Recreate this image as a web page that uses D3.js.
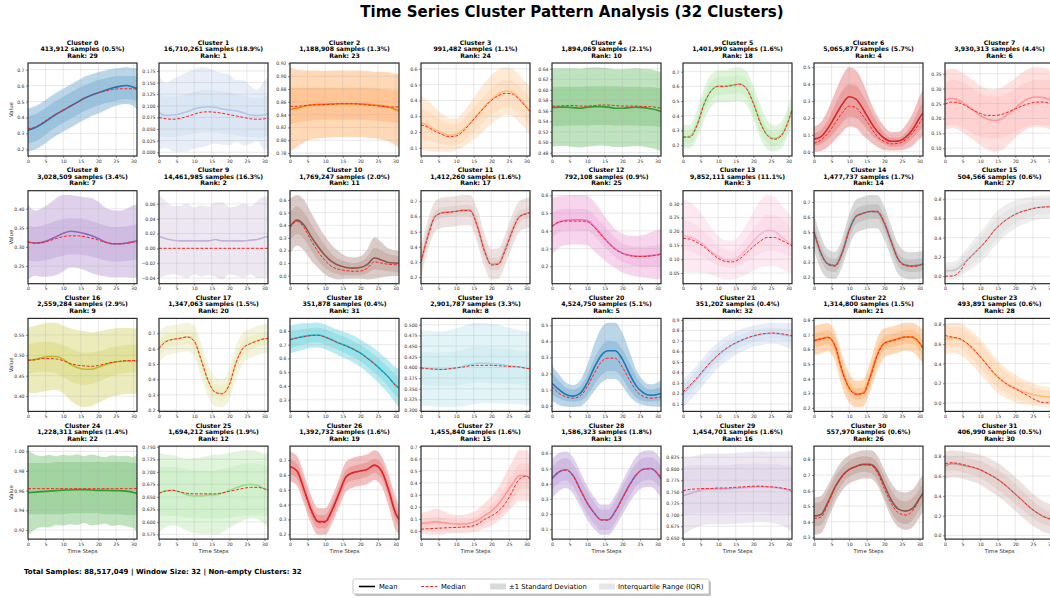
<!DOCTYPE html>
<html>
<head>
<meta charset="utf-8">
<script src="https://cdn.jsdelivr.net/npm/d3@7"></script>
<style>
  body { margin: 0; background: #fff; }
  svg { display: block; font-family: "DejaVu Sans", "Liberation Sans", sans-serif; }
</style>
</head>
<body>
<svg id="chart" width="1050" height="598"></svg>
<script>
// ---- data -------------------------------------------------------------
const timeSteps = [0, 2, 4, 6, 8, 10, 12, 14, 16, 18, 20, 22, 24, 26, 28, 30, 31];
const xTickValues = [0, 5, 10, 15, 20, 25, 30];
const totalSamples = 88517049;
const windowSize = 32;

const sampleCounts = [413912, 16710261, 1188908, 991482, 1894069, 1401990, 5065877, 3930313,
  3028509, 14461985, 1769247, 1412260, 792108, 9852111, 1477737, 504566,
  2559284, 1347063, 351878, 2901787, 4524750, 351202, 1314800, 493891,
  1228311, 1694212, 1392732, 1455840, 1586323, 1454701, 557970, 406990];
const ranks = [29, 1, 23, 24, 10, 18, 4, 6, 7, 2, 11, 17, 25, 3, 14, 27,
  9, 20, 31, 8, 5, 32, 21, 28, 22, 12, 19, 15, 13, 16, 26, 30];
const yTickSteps = [0.1, 0.025, 0.02, 0.1, 0.02, 0.1, 0.1, 0.05,
  0.05, 0.02, 0.1, 0.1, 0.1, 0.05, 0.1, 0.2,
  0.05, 0.1, 0.1, 0.025, 0.1, 0.1, 0.1, 0.2,
  0.02, 0.025, 0.1, 0.1, 0.1, 0.025, 0.1, 0.2];
const tab20 = ["#1f77b4", "#aec7e8", "#ff7f0e", "#ffbb78", "#2ca02c", "#98df8a", "#d62728", "#ff9896",
  "#9467bd", "#c5b0d5", "#8c564b", "#c49c94", "#e377c2", "#f7b6d2", "#7f7f7f", "#c7c7c7",
  "#bcbd22", "#dbdb8d", "#17becf", "#9edae5"];

const meanSeries = [
  [0.32,0.335,0.36,0.39,0.42,0.445,0.47,0.495,0.52,0.54,0.555,0.57,0.585,0.595,0.6,0.59,0.58],
  [0.085,0.079,0.08,0.083,0.087,0.093,0.097,0.098,0.097,0.093,0.091,0.089,0.085,0.08,0.079,0.08,0.084],
  [0.848,0.85,0.853,0.855,0.856,0.856,0.857,0.857,0.857,0.857,0.857,0.856,0.855,0.854,0.852,0.848,0.846],
  [0.26,0.24,0.215,0.195,0.18,0.185,0.215,0.26,0.31,0.36,0.405,0.44,0.46,0.45,0.41,0.36,0.33],
  [0.566,0.567,0.567,0.566,0.565,0.567,0.568,0.568,0.567,0.565,0.565,0.566,0.567,0.566,0.564,0.561,0.558],
  [0.255,0.26,0.34,0.48,0.57,0.6,0.6,0.61,0.615,0.59,0.49,0.36,0.27,0.245,0.27,0.37,0.44],
  [0.075,0.09,0.14,0.21,0.28,0.325,0.31,0.25,0.18,0.12,0.08,0.062,0.063,0.085,0.13,0.2,0.23],
  [0.262,0.268,0.26,0.245,0.228,0.21,0.198,0.193,0.198,0.215,0.235,0.255,0.268,0.272,0.27,0.262,0.258],
  [0.313,0.31,0.312,0.318,0.327,0.336,0.341,0.339,0.335,0.33,0.322,0.313,0.308,0.308,0.31,0.314,0.316],
  [0.016,0.013,0.011,0.01,0.01,0.01,0.01,0.01,0.012,0.01,0.01,0.01,0.01,0.011,0.012,0.015,0.016],
  [0.39,0.44,0.4,0.31,0.23,0.16,0.11,0.08,0.065,0.06,0.065,0.09,0.14,0.125,0.105,0.1,0.098],
  [0.3,0.48,0.6,0.625,0.63,0.635,0.642,0.64,0.54,0.38,0.285,0.29,0.385,0.51,0.6,0.62,0.626],
  [0.425,0.45,0.46,0.463,0.463,0.458,0.425,0.38,0.335,0.298,0.275,0.262,0.257,0.256,0.26,0.265,0.27],
  [0.185,0.18,0.168,0.15,0.128,0.11,0.098,0.097,0.11,0.135,0.165,0.19,0.203,0.2,0.18,0.16,0.15],
  [0.5,0.36,0.29,0.28,0.364,0.514,0.607,0.625,0.637,0.635,0.56,0.435,0.32,0.283,0.277,0.282,0.29],
  [0.056,0.058,0.09,0.16,0.23,0.3,0.38,0.475,0.545,0.6,0.643,0.672,0.693,0.71,0.718,0.722,0.724],
  [0.488,0.49,0.494,0.497,0.497,0.49,0.478,0.47,0.466,0.466,0.471,0.477,0.482,0.485,0.486,0.486,0.485],
  [0.607,0.65,0.66,0.667,0.676,0.65,0.527,0.392,0.318,0.309,0.37,0.517,0.607,0.634,0.652,0.665,0.667],
  [0.738,0.75,0.76,0.768,0.77,0.756,0.734,0.71,0.692,0.668,0.64,0.602,0.562,0.515,0.465,0.406,0.386],
  [0.399,0.398,0.396,0.396,0.397,0.399,0.403,0.407,0.41,0.41,0.409,0.408,0.405,0.403,0.401,0.398,0.397],
  [0.14,0.1,0.07,0.06,0.077,0.142,0.237,0.313,0.342,0.342,0.29,0.2,0.122,0.08,0.065,0.07,0.076],
  [0.2,0.265,0.34,0.42,0.497,0.562,0.617,0.66,0.694,0.722,0.744,0.76,0.77,0.772,0.762,0.75,0.744],
  [0.66,0.673,0.682,0.62,0.45,0.337,0.295,0.302,0.416,0.564,0.643,0.659,0.673,0.686,0.682,0.643,0.614],
  [0.65,0.662,0.652,0.61,0.546,0.47,0.39,0.3,0.235,0.185,0.146,0.115,0.095,0.077,0.065,0.058,0.056],
  [0.958,0.9585,0.959,0.9595,0.96,0.9605,0.9607,0.961,0.961,0.9607,0.9603,0.9603,0.96,0.96,0.9595,0.958,0.957],
  [0.657,0.662,0.663,0.659,0.654,0.652,0.652,0.654,0.654,0.657,0.663,0.668,0.673,0.675,0.673,0.666,0.663],
  [0.657,0.627,0.502,0.366,0.286,0.286,0.366,0.48,0.59,0.616,0.627,0.639,0.666,0.627,0.502,0.343,0.3],
  [0.063,0.068,0.077,0.07,0.062,0.058,0.058,0.066,0.086,0.125,0.165,0.222,0.303,0.39,0.46,0.46,0.432],
  [0.432,0.477,0.492,0.454,0.365,0.275,0.208,0.163,0.163,0.22,0.305,0.39,0.46,0.495,0.5,0.466,0.432],
  [0.741,0.746,0.751,0.755,0.756,0.756,0.756,0.757,0.758,0.759,0.76,0.761,0.76,0.759,0.757,0.753,0.75],
  [0.436,0.447,0.528,0.623,0.694,0.736,0.755,0.768,0.768,0.73,0.634,0.538,0.481,0.468,0.485,0.549,0.585],
  [0.703,0.726,0.719,0.703,0.687,0.664,0.628,0.589,0.541,0.482,0.417,0.353,0.287,0.233,0.19,0.165,0.155]
];

const medianSeries = [
  [0.33,0.34,0.365,0.395,0.42,0.445,0.47,0.495,0.52,0.54,0.555,0.565,0.575,0.58,0.58,0.58,0.575],
  [0.075,0.072,0.071,0.073,0.077,0.082,0.086,0.087,0.086,0.084,0.081,0.078,0.075,0.072,0.071,0.072,0.074],
  [0.853,0.853,0.854,0.855,0.855,0.856,0.856,0.857,0.857,0.857,0.856,0.855,0.854,0.853,0.852,0.852,0.852],
  [0.245,0.23,0.205,0.185,0.17,0.175,0.205,0.255,0.305,0.355,0.4,0.43,0.445,0.44,0.405,0.355,0.33],
  [0.569,0.569,0.57,0.57,0.569,0.569,0.57,0.571,0.571,0.57,0.569,0.569,0.569,0.568,0.568,0.566,0.565],
  [0.255,0.255,0.335,0.48,0.57,0.6,0.6,0.605,0.615,0.585,0.485,0.35,0.265,0.24,0.265,0.365,0.44],
  [0.05,0.07,0.11,0.17,0.23,0.27,0.26,0.21,0.15,0.09,0.06,0.047,0.05,0.07,0.11,0.17,0.2],
  [0.248,0.255,0.252,0.242,0.228,0.217,0.21,0.21,0.213,0.222,0.232,0.242,0.25,0.255,0.255,0.25,0.248],
  [0.313,0.31,0.311,0.316,0.322,0.327,0.329,0.329,0.327,0.323,0.318,0.312,0.309,0.308,0.31,0.313,0.315],
  [0,0,0,0,0,0,0,0,0,0,0,0,0,0,0,0,0],
  [0.38,0.43,0.38,0.28,0.19,0.12,0.07,0.05,0.04,0.035,0.037,0.06,0.11,0.1,0.09,0.087,0.085],
  [0.3,0.47,0.6,0.623,0.628,0.633,0.64,0.638,0.535,0.375,0.28,0.285,0.38,0.505,0.598,0.618,0.625],
  [0.425,0.45,0.455,0.455,0.455,0.452,0.42,0.375,0.332,0.295,0.272,0.26,0.255,0.255,0.258,0.263,0.268],
  [0.175,0.172,0.16,0.145,0.123,0.103,0.092,0.09,0.1,0.122,0.145,0.165,0.178,0.178,0.168,0.155,0.148],
  [0.505,0.36,0.285,0.275,0.36,0.51,0.605,0.625,0.638,0.64,0.565,0.435,0.315,0.278,0.272,0.28,0.295],
  [0,0.002,0.04,0.15,0.225,0.3,0.38,0.475,0.545,0.6,0.643,0.672,0.693,0.71,0.718,0.722,0.724],
  [0.488,0.489,0.492,0.492,0.491,0.487,0.48,0.476,0.474,0.473,0.475,0.479,0.483,0.485,0.487,0.487,0.488],
  [0.6,0.645,0.66,0.667,0.676,0.65,0.525,0.39,0.315,0.305,0.365,0.515,0.605,0.632,0.65,0.664,0.667],
  [0.735,0.748,0.758,0.766,0.768,0.755,0.733,0.71,0.69,0.666,0.638,0.6,0.56,0.513,0.463,0.404,0.384],
  [0.399,0.397,0.396,0.395,0.397,0.399,0.401,0.404,0.405,0.405,0.405,0.404,0.403,0.402,0.401,0.398,0.397],
  [0.12,0.077,0.055,0.047,0.06,0.118,0.2,0.272,0.296,0.295,0.24,0.163,0.092,0.057,0.047,0.05,0.055],
  [0.215,0.28,0.35,0.43,0.505,0.568,0.622,0.665,0.698,0.726,0.748,0.764,0.773,0.775,0.768,0.756,0.75],
  [0.655,0.67,0.68,0.625,0.455,0.335,0.292,0.298,0.41,0.56,0.64,0.657,0.67,0.683,0.684,0.645,0.6],
  [0.685,0.67,0.655,0.615,0.553,0.47,0.385,0.3,0.232,0.18,0.146,0.105,0.065,0.024,0.003,0,0],
  [0.962,0.962,0.962,0.962,0.962,0.962,0.962,0.962,0.962,0.962,0.962,0.962,0.962,0.962,0.962,0.962,0.962],
  [0.657,0.662,0.663,0.66,0.657,0.656,0.656,0.656,0.656,0.658,0.661,0.664,0.667,0.669,0.669,0.666,0.663],
  [0.655,0.625,0.5,0.36,0.28,0.28,0.36,0.475,0.585,0.613,0.625,0.637,0.662,0.63,0.505,0.345,0.3],
  [0.014,0.018,0.021,0.024,0.027,0.029,0.032,0.036,0.055,0.095,0.124,0.165,0.23,0.33,0.432,0.455,0.432],
  [0.44,0.48,0.49,0.45,0.36,0.272,0.205,0.16,0.16,0.215,0.3,0.388,0.458,0.495,0.498,0.47,0.445],
  [0.752,0.755,0.756,0.757,0.757,0.758,0.758,0.759,0.76,0.761,0.762,0.762,0.761,0.76,0.758,0.755,0.753],
  [0.421,0.43,0.517,0.617,0.687,0.734,0.755,0.766,0.762,0.715,0.613,0.517,0.457,0.443,0.468,0.545,0.585],
  [0.726,0.735,0.726,0.708,0.69,0.665,0.628,0.589,0.541,0.482,0.417,0.353,0.287,0.233,0.19,0.165,0.155]
];

const stdSeries = [
  [0.135,0.135,0.135,0.135,0.135,0.135,0.135,0.135,0.135,0.13,0.13,0.125,0.12,0.115,0.115,0.12,0.13],
  [0.08,0.07,0.078,0.082,0.085,0.085,0.086,0.083,0.078,0.077,0.076,0.066,0.07,0.062,0.055,0.075,0.076],
  [0.066,0.06,0.056,0.054,0.053,0.052,0.052,0.052,0.052,0.052,0.052,0.052,0.052,0.053,0.054,0.056,0.058],
  [0.17,0.16,0.14,0.12,0.105,0.1,0.11,0.125,0.14,0.15,0.155,0.155,0.15,0.15,0.15,0.15,0.15],
  [0.075,0.074,0.074,0.075,0.075,0.075,0.075,0.074,0.074,0.074,0.074,0.074,0.074,0.074,0.075,0.075,0.076],
  [0.08,0.08,0.095,0.11,0.11,0.11,0.11,0.115,0.115,0.115,0.115,0.11,0.1,0.09,0.09,0.1,0.105],
  [0.075,0.085,0.11,0.14,0.165,0.175,0.17,0.155,0.12,0.09,0.07,0.055,0.055,0.07,0.095,0.125,0.14],
  [0.1,0.1,0.1,0.1,0.1,0.1,0.102,0.105,0.105,0.103,0.1,0.1,0.1,0.1,0.1,0.1,0.1],
  [0.098,0.085,0.09,0.095,0.1,0.1,0.095,0.094,0.095,0.098,0.096,0.09,0.088,0.087,0.09,0.095,0.095],
  [0.056,0.05,0.046,0.047,0.05,0.045,0.048,0.046,0.05,0.052,0.045,0.047,0.05,0.046,0.052,0.055,0.054],
  [0.22,0.2,0.2,0.19,0.17,0.15,0.13,0.11,0.09,0.085,0.09,0.12,0.165,0.14,0.11,0.1,0.1],
  [0.1,0.1,0.1,0.1,0.1,0.1,0.1,0.1,0.11,0.11,0.1,0.1,0.1,0.105,0.1,0.1,0.1],
  [0.16,0.145,0.14,0.14,0.14,0.14,0.14,0.13,0.12,0.11,0.11,0.11,0.115,0.12,0.13,0.14,0.14],
  [0.13,0.125,0.115,0.1,0.085,0.075,0.07,0.07,0.075,0.09,0.105,0.12,0.128,0.125,0.115,0.105,0.1],
  [0.12,0.11,0.095,0.09,0.095,0.105,0.11,0.11,0.11,0.11,0.11,0.105,0.1,0.09,0.09,0.09,0.09],
  [0.09,0.09,0.1,0.12,0.14,0.155,0.165,0.17,0.165,0.155,0.145,0.135,0.13,0.125,0.12,0.12,0.12],
  [0.08,0.082,0.083,0.083,0.082,0.083,0.088,0.092,0.093,0.09,0.087,0.085,0.083,0.082,0.081,0.08,0.08],
  [0.1,0.095,0.093,0.092,0.093,0.1,0.11,0.105,0.095,0.09,0.1,0.11,0.1,0.095,0.095,0.095,0.095],
  [0.1,0.1,0.095,0.09,0.09,0.09,0.09,0.092,0.095,0.098,0.1,0.105,0.11,0.115,0.12,0.13,0.14],
  [0.088,0.088,0.088,0.088,0.09,0.092,0.094,0.095,0.095,0.094,0.093,0.092,0.09,0.088,0.087,0.087,0.087],
  [0.11,0.095,0.075,0.068,0.08,0.11,0.145,0.17,0.175,0.175,0.165,0.14,0.1,0.075,0.068,0.075,0.085],
  [0.13,0.13,0.13,0.13,0.13,0.125,0.12,0.115,0.11,0.105,0.1,0.1,0.1,0.1,0.105,0.12,0.13],
  [0.1,0.1,0.095,0.1,0.11,0.1,0.09,0.09,0.1,0.11,0.1,0.095,0.095,0.095,0.1,0.11,0.12],
  [0.15,0.155,0.16,0.165,0.17,0.175,0.175,0.17,0.16,0.15,0.14,0.13,0.12,0.11,0.105,0.1,0.1],
  [0.043,0.038,0.036,0.037,0.035,0.036,0.035,0.036,0.034,0.036,0.035,0.034,0.036,0.035,0.036,0.036,0.041],
  [0.08,0.072,0.07,0.07,0.072,0.075,0.076,0.078,0.08,0.078,0.075,0.072,0.07,0.068,0.068,0.07,0.075],
  [0.1,0.1,0.1,0.095,0.09,0.09,0.09,0.095,0.1,0.1,0.1,0.1,0.1,0.1,0.11,0.11,0.1],
  [0.085,0.095,0.11,0.1,0.08,0.075,0.075,0.08,0.09,0.105,0.12,0.14,0.165,0.19,0.21,0.21,0.2],
  [0.13,0.125,0.12,0.12,0.115,0.11,0.105,0.1,0.1,0.105,0.11,0.115,0.12,0.12,0.12,0.125,0.13],
  [0.085,0.08,0.078,0.077,0.077,0.077,0.077,0.077,0.077,0.077,0.077,0.077,0.077,0.078,0.08,0.085,0.09],
  [0.12,0.12,0.11,0.1,0.095,0.09,0.09,0.09,0.09,0.095,0.1,0.11,0.115,0.12,0.12,0.12,0.12],
  [0.14,0.135,0.135,0.14,0.145,0.15,0.16,0.165,0.17,0.17,0.17,0.17,0.165,0.16,0.155,0.15,0.15]
];

const q25Series = [
  [0.24,0.25,0.275,0.31,0.34,0.365,0.39,0.415,0.44,0.46,0.475,0.49,0.5,0.51,0.515,0.51,0.5],
  [0.035,0.033,0.033,0.035,0.038,0.04,0.042,0.043,0.042,0.04,0.038,0.036,0.034,0.033,0.032,0.033,0.035],
  [0.825,0.828,0.83,0.831,0.832,0.832,0.832,0.832,0.832,0.832,0.832,0.832,0.831,0.83,0.829,0.828,0.826],
  [0.16,0.15,0.14,0.125,0.115,0.12,0.14,0.18,0.22,0.27,0.31,0.34,0.36,0.35,0.32,0.27,0.24],
  [0.53,0.531,0.532,0.532,0.532,0.532,0.533,0.533,0.533,0.532,0.532,0.532,0.532,0.531,0.531,0.53,0.528],
  [0.21,0.21,0.28,0.42,0.51,0.54,0.545,0.55,0.555,0.53,0.42,0.29,0.215,0.195,0.215,0.3,0.37],
  [0.035,0.045,0.075,0.12,0.17,0.205,0.2,0.16,0.11,0.07,0.045,0.03,0.03,0.045,0.08,0.125,0.15],
  [0.175,0.18,0.175,0.165,0.15,0.14,0.135,0.133,0.135,0.145,0.155,0.165,0.175,0.178,0.178,0.175,0.172],
  [0.265,0.262,0.263,0.267,0.273,0.277,0.28,0.28,0.278,0.275,0.27,0.265,0.262,0.262,0.263,0.266,0.268],
  [0,0,0,0,0,0,0,0,0,0,0,0,0,0,0,0,0],
  [0.28,0.33,0.29,0.2,0.12,0.06,0.025,0.01,0.005,0.003,0.005,0.02,0.05,0.045,0.035,0.03,0.03],
  [0.26,0.43,0.565,0.59,0.596,0.6,0.605,0.602,0.49,0.33,0.245,0.25,0.34,0.46,0.56,0.585,0.59],
  [0.36,0.39,0.4,0.4,0.4,0.4,0.37,0.33,0.29,0.25,0.225,0.21,0.2,0.195,0.195,0.195,0.195],
  [0.13,0.127,0.118,0.105,0.09,0.077,0.07,0.068,0.075,0.09,0.105,0.12,0.13,0.13,0.125,0.115,0.11],
  [0.45,0.315,0.245,0.235,0.315,0.46,0.555,0.575,0.59,0.59,0.515,0.39,0.275,0.24,0.235,0.24,0.25],
  [0,0,0.02,0.08,0.14,0.2,0.27,0.36,0.44,0.5,0.55,0.59,0.615,0.635,0.645,0.65,0.652],
  [0.455,0.458,0.46,0.46,0.455,0.447,0.437,0.43,0.428,0.43,0.435,0.443,0.45,0.455,0.457,0.458,0.458],
  [0.55,0.6,0.615,0.622,0.63,0.6,0.47,0.34,0.27,0.26,0.32,0.46,0.555,0.59,0.61,0.622,0.625],
  [0.67,0.69,0.705,0.713,0.715,0.7,0.678,0.655,0.635,0.61,0.58,0.54,0.5,0.45,0.395,0.33,0.305],
  [0.36,0.358,0.357,0.357,0.357,0.358,0.36,0.363,0.365,0.365,0.364,0.363,0.362,0.361,0.36,0.358,0.357],
  [0.07,0.045,0.03,0.025,0.03,0.065,0.13,0.19,0.215,0.215,0.17,0.1,0.05,0.03,0.025,0.028,0.032],
  [0.13,0.195,0.27,0.35,0.43,0.5,0.56,0.6,0.635,0.665,0.69,0.705,0.715,0.718,0.71,0.695,0.685],
  [0.61,0.625,0.635,0.575,0.405,0.295,0.255,0.26,0.365,0.515,0.595,0.612,0.625,0.637,0.637,0.595,0.55],
  [0.56,0.57,0.56,0.515,0.44,0.35,0.27,0.19,0.13,0.085,0.05,0.025,0.01,0,0,0,0],
  [0.936,0.936,0.936,0.936,0.936,0.936,0.937,0.937,0.937,0.937,0.937,0.936,0.936,0.936,0.935,0.935,0.935],
  [0.612,0.612,0.612,0.61,0.608,0.607,0.606,0.606,0.606,0.607,0.608,0.61,0.612,0.613,0.613,0.612,0.611],
  [0.605,0.575,0.45,0.315,0.24,0.24,0.315,0.43,0.54,0.565,0.575,0.59,0.615,0.58,0.455,0.295,0.255],
  [0.01,0.012,0.014,0.016,0.018,0.02,0.022,0.025,0.035,0.06,0.085,0.12,0.17,0.25,0.33,0.35,0.33],
  [0.36,0.405,0.42,0.38,0.29,0.2,0.135,0.095,0.095,0.145,0.23,0.315,0.385,0.42,0.425,0.395,0.37],
  [0.7,0.702,0.703,0.704,0.704,0.704,0.704,0.704,0.705,0.705,0.705,0.705,0.705,0.704,0.703,0.7,0.698],
  [0.37,0.38,0.46,0.56,0.64,0.69,0.71,0.72,0.715,0.665,0.56,0.46,0.4,0.385,0.41,0.48,0.52],
  [0.64,0.66,0.65,0.63,0.61,0.58,0.54,0.49,0.44,0.38,0.32,0.26,0.2,0.15,0.11,0.09,0.08]
];

const q75Series = [
  [0.41,0.42,0.445,0.475,0.505,0.53,0.555,0.58,0.6,0.62,0.635,0.645,0.655,0.66,0.66,0.66,0.655],
  [0.125,0.12,0.12,0.122,0.126,0.13,0.133,0.134,0.133,0.13,0.128,0.125,0.122,0.118,0.117,0.12,0.122],
  [0.882,0.882,0.882,0.882,0.882,0.882,0.882,0.882,0.882,0.882,0.882,0.882,0.881,0.88,0.879,0.878,0.877],
  [0.35,0.33,0.3,0.27,0.25,0.25,0.28,0.33,0.38,0.43,0.48,0.51,0.53,0.52,0.49,0.44,0.41],
  [0.605,0.606,0.606,0.606,0.606,0.607,0.607,0.607,0.607,0.607,0.606,0.606,0.606,0.605,0.605,0.604,0.602],
  [0.3,0.3,0.39,0.54,0.63,0.66,0.665,0.67,0.675,0.65,0.55,0.42,0.32,0.29,0.32,0.43,0.5],
  [0.11,0.13,0.19,0.28,0.36,0.4,0.39,0.33,0.25,0.17,0.11,0.085,0.085,0.11,0.17,0.26,0.3],
  [0.32,0.33,0.325,0.315,0.3,0.285,0.275,0.27,0.275,0.285,0.3,0.315,0.325,0.33,0.33,0.325,0.32],
  [0.357,0.352,0.356,0.362,0.368,0.373,0.375,0.375,0.373,0.368,0.362,0.356,0.352,0.352,0.354,0.358,0.36],
  [0,0,0,0,0,0,0,0,0,0,0,0,0,0,0,0,0],
  [0.5,0.55,0.5,0.41,0.32,0.24,0.17,0.13,0.11,0.1,0.11,0.15,0.22,0.2,0.17,0.16,0.155],
  [0.34,0.52,0.635,0.66,0.665,0.67,0.678,0.675,0.59,0.43,0.325,0.33,0.43,0.555,0.64,0.655,0.66],
  [0.5,0.52,0.525,0.525,0.525,0.52,0.49,0.445,0.4,0.36,0.33,0.315,0.31,0.31,0.315,0.32,0.33],
  [0.24,0.235,0.22,0.2,0.175,0.15,0.133,0.13,0.145,0.175,0.21,0.24,0.26,0.26,0.245,0.225,0.21],
  [0.555,0.41,0.335,0.325,0.41,0.56,0.655,0.675,0.685,0.685,0.61,0.48,0.36,0.325,0.32,0.325,0.335],
  [0.1,0.1,0.15,0.24,0.32,0.4,0.49,0.58,0.64,0.69,0.725,0.75,0.765,0.78,0.785,0.79,0.79],
  [0.527,0.53,0.533,0.533,0.53,0.525,0.517,0.51,0.507,0.507,0.51,0.515,0.52,0.523,0.525,0.526,0.526],
  [0.655,0.695,0.705,0.712,0.72,0.7,0.58,0.44,0.365,0.355,0.42,0.57,0.655,0.68,0.695,0.707,0.71],
  [0.795,0.805,0.813,0.82,0.822,0.81,0.79,0.77,0.75,0.725,0.7,0.665,0.625,0.58,0.535,0.48,0.46],
  [0.437,0.436,0.435,0.435,0.436,0.438,0.442,0.446,0.448,0.448,0.447,0.446,0.444,0.442,0.44,0.438,0.437],
  [0.2,0.155,0.11,0.1,0.12,0.19,0.29,0.37,0.405,0.4,0.35,0.27,0.18,0.12,0.1,0.11,0.12],
  [0.28,0.345,0.425,0.505,0.575,0.635,0.685,0.725,0.755,0.78,0.8,0.815,0.823,0.825,0.82,0.81,0.8],
  [0.71,0.72,0.73,0.675,0.505,0.38,0.335,0.34,0.46,0.61,0.69,0.705,0.718,0.732,0.73,0.695,0.655],
  [0.78,0.775,0.77,0.74,0.68,0.6,0.52,0.43,0.35,0.29,0.24,0.2,0.17,0.15,0.13,0.12,0.12],
  [0.988,0.988,0.988,0.988,0.989,0.989,0.989,0.989,0.989,0.989,0.989,0.989,0.989,0.989,0.989,0.988,0.988],
  [0.708,0.71,0.71,0.708,0.705,0.703,0.702,0.702,0.703,0.705,0.708,0.712,0.715,0.717,0.716,0.713,0.71],
  [0.705,0.675,0.555,0.41,0.33,0.33,0.41,0.525,0.635,0.66,0.672,0.685,0.71,0.68,0.555,0.39,0.345],
  [0.1,0.105,0.115,0.11,0.1,0.095,0.095,0.1,0.125,0.165,0.215,0.28,0.37,0.47,0.55,0.56,0.54],
  [0.51,0.555,0.57,0.53,0.44,0.35,0.28,0.23,0.23,0.29,0.38,0.465,0.535,0.57,0.575,0.545,0.515],
  [0.805,0.807,0.808,0.808,0.808,0.808,0.808,0.809,0.81,0.81,0.811,0.811,0.81,0.81,0.808,0.806,0.804],
  [0.52,0.53,0.6,0.69,0.75,0.79,0.81,0.82,0.815,0.78,0.69,0.6,0.545,0.53,0.55,0.61,0.645],
  [0.79,0.8,0.8,0.785,0.77,0.75,0.72,0.68,0.64,0.58,0.52,0.45,0.38,0.32,0.27,0.24,0.23]
];

// ---- layout -----------------------------------------------------------
const nCols = 8;
const panelW = 109, panelH = 93;
const colX = c => 28 + c * 131;
const rowY = r => 63 + r * 127.7;
const stdAlpha = 0.3, iqrAlpha = 0.2;

const svg = d3.select("#chart");
const fmtCount = d3.format(",");
const fmtPct = d3.format(".1f");

svg.append("text")
  .attr("x", 572).attr("y", 17)
  .attr("text-anchor", "middle")
  .attr("font-size", 15).attr("font-weight", "bold")
  .text("Time Series Cluster Pattern Analysis (32 Clusters)");

const defs = svg.append("defs");

sampleCounts.forEach((count, i) => {
  const col = i % nCols, row = Math.floor(i / nCols);
  const g = svg.append("g").attr("transform", `translate(${colX(col)},${rowY(row)})`);

  const mean = meanSeries[i], median = medianSeries[i], std = stdSeries[i];
  const q25 = q25Series[i], q75 = q75Series[i];
  const rows = timeSteps.map((t, k) => ({
    t, mean: mean[k], median: median[k], lo: mean[k] - std[k], hi: mean[k] + std[k], q25: q25[k], q75: q75[k]
  }));

  const lo = d3.min(rows, d => Math.min(d.lo, d.q25, d.median, d.mean));
  const hi = d3.max(rows, d => Math.max(d.hi, d.q75, d.median, d.mean));
  const pad = (hi - lo) * 0.05;

  const x = d3.scaleLinear().domain([0, 31]).range([0, panelW]);
  const y = d3.scaleLinear().domain([lo - pad, hi + pad]).range([panelH, 0]);

  const step = yTickSteps[i];
  const decimals = (String(step).split(".")[1] || "").length;
  const yTicks = d3.range(Math.ceil((lo - pad) / step - 1e-9), Math.floor((hi + pad) / step + 1e-9) + 1)
    .map(k => +(k * step).toFixed(6));

  const color = tab20[i % 20];
  const clipId = `clip-${i}`;
  defs.append("clipPath").attr("id", clipId)
    .append("rect").attr("width", panelW).attr("height", panelH);

  const plot = g.append("g").attr("clip-path", `url(#${clipId})`);
  const curve = d3.curveMonotoneX;

  // ±1 std band and interquartile band
  plot.append("path").datum(rows)
    .attr("fill", color).attr("fill-opacity", stdAlpha)
    .attr("d", d3.area().x(d => x(d.t)).y0(d => y(d.lo)).y1(d => y(d.hi)).curve(curve));
  plot.append("path").datum(rows)
    .attr("fill", color).attr("fill-opacity", iqrAlpha)
    .attr("d", d3.area().x(d => x(d.t)).y0(d => y(d.q25)).y1(d => y(d.q75)).curve(curve));

  // grid
  const grid = plot.append("g").attr("stroke", "#b0b0b0").attr("stroke-opacity", 0.35).attr("stroke-width", 0.8);
  grid.selectAll(".gx").data(xTickValues).join("line")
    .attr("x1", d => x(d)).attr("x2", d => x(d)).attr("y1", 0).attr("y2", panelH);
  grid.selectAll(".gy").data(yTicks).join("line")
    .attr("x1", 0).attr("x2", panelW).attr("y1", d => y(d)).attr("y2", d => y(d));

  // mean and median
  plot.append("path").datum(rows)
    .attr("fill", "none").attr("stroke", color).attr("stroke-width", 1.6)
    .attr("d", d3.line().x(d => x(d.t)).y(d => y(d.mean)).curve(curve));
  plot.append("path").datum(rows)
    .attr("fill", "none").attr("stroke", "#ff2020").attr("stroke-width", 1)
    .attr("stroke-dasharray", "3,1.6")
    .attr("d", d3.line().x(d => x(d.t)).y(d => y(d.median)).curve(curve));

  // axes
  const xAxis = g.append("g").attr("transform", `translate(0,${panelH})`)
    .call(d3.axisBottom(x).tickValues(xTickValues).tickSize(2).tickPadding(1.5).tickFormat(d3.format("d")));
  const yAxis = g.append("g")
    .call(d3.axisLeft(y).tickValues(yTicks).tickSize(2).tickPadding(1.5).tickFormat(d3.format(`.${decimals}f`)));
  [xAxis, yAxis].forEach(a => {
    a.select(".domain").remove();
    a.selectAll("text").attr("font-size", 4.6).attr("fill", "#333").attr("font-family", "DejaVu Sans");
    a.selectAll("line").attr("stroke", "#444").attr("stroke-width", 0.6);
  });

  // frame
  g.append("rect").attr("width", panelW).attr("height", panelH)
    .attr("fill", "none").attr("stroke", "#2b2b2b").attr("stroke-width", 1.2);

  // titles
  const title = g.append("text").attr("x", panelW / 2).attr("text-anchor", "middle")
    .attr("font-size", 6.2).attr("font-weight", "bold");
  title.append("tspan").attr("x", panelW / 2).attr("y", -18.5).text(`Cluster ${i}`);
  title.append("tspan").attr("x", panelW / 2).attr("y", -12)
    .text(`${fmtCount(count)} samples (${fmtPct(count / totalSamples * 100)}%)`);
  title.append("tspan").attr("x", panelW / 2).attr("y", -5.5).text(`Rank: ${ranks[i]}`);

  if (col === 0) {
    g.append("text").attr("transform", `translate(-15,${panelH / 2}) rotate(-90)`)
      .attr("text-anchor", "middle").attr("font-size", 5.4).attr("fill", "#333").text("Value");
  }
  if (row === 3) {
    g.append("text").attr("x", panelW / 2).attr("y", panelH + 13.5)
      .attr("text-anchor", "middle").attr("font-size", 5.4).attr("fill", "#333").text("Time Steps");
  }
});

// footer summary
svg.append("text").attr("x", 24).attr("y", 574)
  .attr("font-size", 7).attr("font-weight", "bold")
  .text(`Total Samples: ${fmtCount(totalSamples)} | Window Size: ${windowSize} | Non-empty Clusters: ${sampleCounts.length}`);

// legend
const legend = svg.append("g").attr("transform", "translate(353,579)");
legend.append("rect").attr("x", 2).attr("y", 2).attr("width", 356).attr("height", 15)
  .attr("fill", "#888").attr("fill-opacity", 0.5).attr("rx", 1.5);
legend.append("rect").attr("width", 356).attr("height", 15)
  .attr("fill", "#fff").attr("stroke", "#bbb").attr("stroke-width", 0.8).attr("rx", 1.5);
const ly = 7.5;
legend.append("line").attr("x1", 6).attr("x2", 22).attr("y1", ly).attr("y2", ly)
  .attr("stroke", "#000").attr("stroke-width", 1.6);
legend.append("text").attr("x", 26).attr("y", ly + 2.4).attr("font-size", 6.8).text("Mean");
legend.append("line").attr("x1", 68).attr("x2", 84).attr("y1", ly).attr("y2", ly)
  .attr("stroke", "#ff2020").attr("stroke-width", 1).attr("stroke-dasharray", "3,1.6");
legend.append("text").attr("x", 88).attr("y", ly + 2.4).attr("font-size", 6.8).text("Median");
legend.append("rect").attr("x", 137).attr("y", ly - 3).attr("width", 16).attr("height", 6)
  .attr("fill", "#808080").attr("fill-opacity", stdAlpha);
legend.append("text").attr("x", 156).attr("y", ly + 2.4).attr("font-size", 6.8).text("±1 Standard Deviation");
legend.append("rect").attr("x", 246).attr("y", ly - 3).attr("width", 16).attr("height", 6)
  .attr("fill", "#808080").attr("fill-opacity", iqrAlpha);
legend.append("text").attr("x", 265).attr("y", ly + 2.4).attr("font-size", 6.8).text("Interquartile Range (IQR)");
</script>
</body>
</html>
